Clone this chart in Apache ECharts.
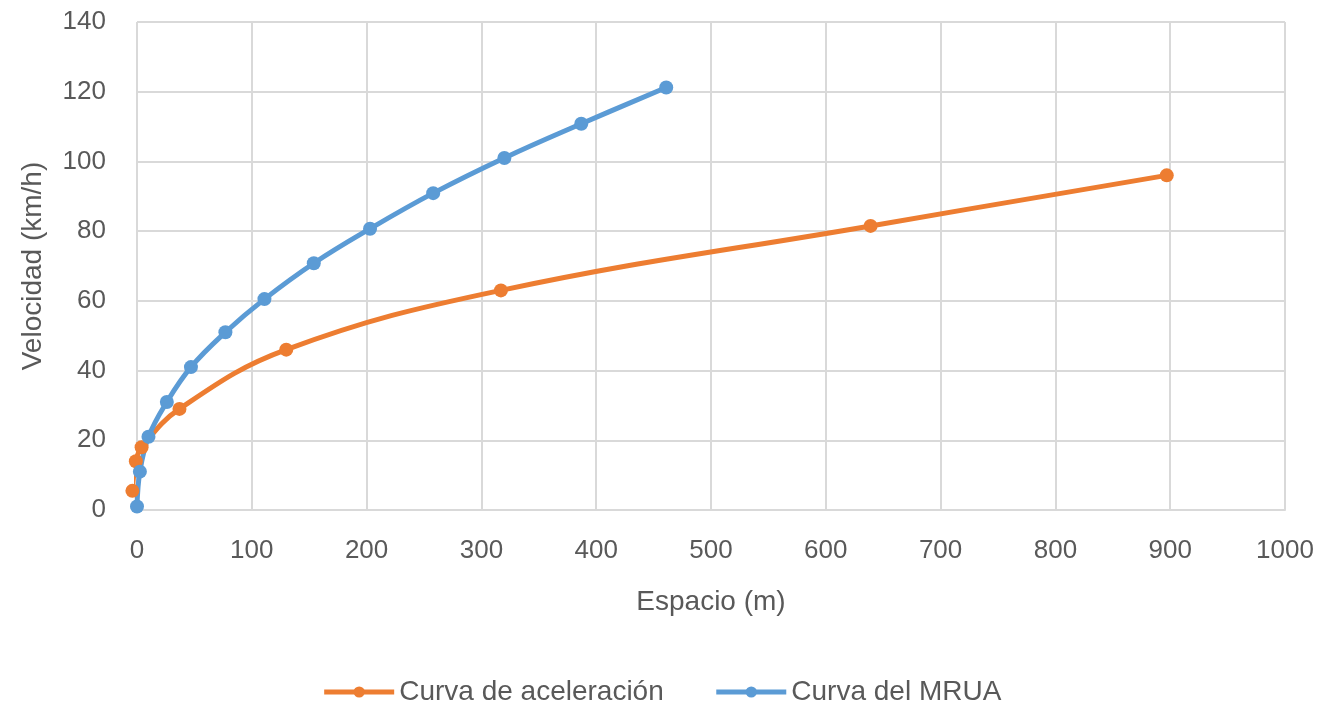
<!DOCTYPE html>
<html>
<head>
<meta charset="utf-8">
<script src="https://cdn.jsdelivr.net/npm/echarts@6/dist/echarts.min.js"></script>
<style>
html,body{margin:0;padding:0;background:#fff;}
#chart{width:1323px;height:713px;}
</style>
</head>
<body>
<div id="chart"></div>
<script>
// Curva de aceleración
const accelX = [-4, -1, 4, 37, 130, 317, 639, 897];
const accelY = [5.5, 14, 18, 29, 46, 63, 81.5, 96];
// Curva del MRUA
const mruaX = [0, 2.5, 10, 26, 47, 77, 111, 154, 203, 258, 320, 387, 461];
const mruaY = [1, 11, 21, 31, 41, 51, 60.5, 70.8, 80.7, 90.9, 101, 110.8, 121.2];

const seriesNames = ['Curva de aceleración', 'Curva del MRUA'];
const xTitle = 'Espacio (m)';
const yTitle = 'Velocidad (km/h)';

const pairs = (xs, ys) => xs.map((x, i) => [x, ys[i]]);
const txt = '#595959';
const grid = '#d9d9d9';
const ff = 'Liberation Sans, Arial, sans-serif';

const chart = echarts.init(document.getElementById('chart'));
chart.setOption({
  animation: false,
  backgroundColor: '#fff',
  grid: {left: 137, right: 38, top: 22, bottom: 203, containLabel: false},
  legend: {
    data: seriesNames,
    bottom: 2,
    left: 'center',
    itemWidth: 70,
    itemHeight: 14,
    itemGap: 50,
    lineStyle: {width: 5},
    textStyle: {color: txt, fontSize: 28, fontFamily: ff}
  },
  xAxis: {
    type: 'value', min: 0, max: 1000, interval: 100,
    name: xTitle, nameLocation: 'middle', nameGap: 78,
    nameTextStyle: {color: txt, fontSize: 28, fontFamily: ff},
    axisLine: {show: true, lineStyle: {color: grid, width: 2}},
    axisTick: {show: false},
    axisLabel: {color: txt, fontSize: 26, margin: 28, fontFamily: ff, formatter: v => String(v)},
    splitLine: {show: true, lineStyle: {color: grid, width: 2}}
  },
  yAxis: {
    type: 'value', min: 0, max: 140, interval: 20,
    name: yTitle, nameLocation: 'middle', nameGap: 90,
    nameTextStyle: {color: txt, fontSize: 28, fontFamily: ff},
    axisLine: {show: false},
    axisTick: {show: false},
    axisLabel: {color: txt, fontSize: 26, margin: 31, fontFamily: ff, formatter: v => String(v)},
    splitLine: {show: true, lineStyle: {color: grid, width: 2}}
  },
  series: [
    {
      name: seriesNames[0], type: 'line', smooth: 0.4, clip: false,
      data: pairs(accelX, accelY),
      symbol: 'circle', symbolSize: 14,
      itemStyle: {color: '#ED7D31'},
      lineStyle: {color: '#ED7D31', width: 5}
    },
    {
      name: seriesNames[1], type: 'line', smooth: 0.4, clip: false,
      data: pairs(mruaX, mruaY),
      symbol: 'circle', symbolSize: 14,
      itemStyle: {color: '#5B9BD5'},
      lineStyle: {color: '#5B9BD5', width: 5}
    }
  ]
});
</script>
</body>
</html>
